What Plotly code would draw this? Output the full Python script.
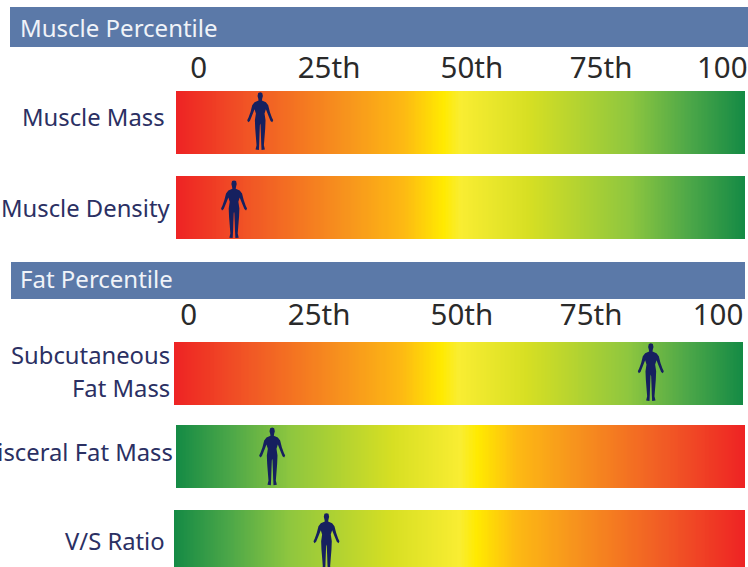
import numpy as np
import plotly.graph_objects as go

W, H = 748, 567

# --- chart content -------------------------------------------------------
row_names = ["Muscle Mass", "Muscle Density", "Subcutaneous Fat Mass", "Visceral Fat Mass", "V/S Ratio"]
percentiles = [14.8, 10.2, 83.8, 16.9, 26.7]
figure_y = [0.52, 0.47, 0.52, 0.50, 0.49]
reversed_scale = [False, False, False, True, True]

tick_labels = ["0", "25th", "50th", "75th", "100"]
muscle_tick_pos = [4.0, 26.9, 52.0, 74.7, 96.0]
fat_tick_pos = [2.6, 25.5, 50.6, 73.3, 95.6]

section_titles = ["Muscle Percentile", "Fat Percentile"]

# --- layout and style ----------------------------------------------------
row_left = [176, 176, 174, 176, 174]
row_right = [745, 745, 743, 745, 745]
row_top = [91, 176, 342, 425, 510]
row_bottom = [154, 239, 405, 488, 573]

label_lines = [
    [("Muscle Mass", 167, 117)],
    [("Muscle Density", 172, 208)],
    [("Subcutaneous", 172, 355), ("Fat Mass", 172, 388)],
    [("Visceral Fat Mass", 175, 452)],
    [("V/S Ratio", 167, 541)],
]
title_boxes = [(10, 748, 7, 47, 18, 27), (11, 745, 262, 299, 18, 278)]
tick_standoff = {0: 6, 2: 10}

ramp = [
    [0.00, "#ee2224"], [0.14, "#f15a25"], [0.30, "#f7941d"], [0.40, "#fdb913"],
    [0.47, "#ffea00"], [0.50, "#f9ed32"], [0.62, "#d7df23"], [0.80, "#8dc63f"],
    [0.90, "#4ea848"], [1.00, "#148a45"],
]
BAND = "#5b79a8"
NAVY = "#2b3063"
GLYPH = "#16205f"
FONT = "Noto Sans"

half = [(0, 36), (6, 38), (8, 47), (6, 55), (5, 61), (17, 66), (24, 75), (29, 95), (35, 112),
        (39, 120), (36, 126), (31, 122), (22, 100), (17, 87), (13, 100), (16, 120), (15, 145),
        (13, 170), (11, 195), (14, 208), (4, 209), (3, 190), (2, 160), (1, 135), (0, 130)]
pts = [(x / 3, (123 - y) / 3) for x, y in half]
outline = pts + [(-x, y) for x, y in reversed(pts[:-1])]
glyph_path = "M " + " L ".join(f"{x:.2f},{y:.2f}" for x, y in outline) + " Z"

ramp_pos = np.arange(0.125, 100, 0.25)

fig = go.Figure()
layout = dict(
    width=W, height=H, margin=dict(l=0, r=0, t=0, b=0, autoexpand=False),
    paper_bgcolor="white", plot_bgcolor="white", showlegend=False,
    font=dict(family=FONT, color=NAVY), shapes=[], annotations=[],
)

for i, name in enumerate(row_names):
    n = "" if i == 0 else str(i + 1)
    z = ramp_pos[::-1] if reversed_scale[i] else ramp_pos
    fig.add_trace(go.Heatmap(
        z=[z.tolist()], x=ramp_pos.tolist(), y=[0.5], dy=1,
        zmin=0, zmax=100, colorscale=ramp, showscale=False,
        xaxis=f"x{n}", yaxis=f"y{n}", name=name,
        hovertemplate=name + "<extra></extra>",
    ))
    ticks = {0: muscle_tick_pos, 2: fat_tick_pos}.get(i)
    layout[f"xaxis{n}"] = dict(
        domain=[row_left[i] / W, min(row_right[i] / W, 1)], range=[0, 100],
        anchor=f"y{n}", side="top", showgrid=False, zeroline=False, showline=False,
        ticks="", showticklabels=ticks is not None,
        tickmode="array", tickvals=ticks or [], ticktext=tick_labels if ticks else [],
        tickfont=dict(family=FONT, size=29.5, color="#2a2a2a"),
        ticklabelstandoff=tick_standoff.get(i, 0),
    )
    bottom = min(row_bottom[i], H)
    layout[f"yaxis{n}"] = dict(
        domain=[1 - bottom / H, 1 - row_top[i] / H],
        range=[(row_bottom[i] - bottom) / (row_bottom[i] - row_top[i]), 1],
        anchor=f"x{n}", showgrid=False, zeroline=False, showline=False,
        showticklabels=False, ticks="",
    )
    layout["shapes"].append(dict(
        type="path", path=glyph_path, xsizemode="pixel", ysizemode="pixel",
        xref=f"x{n}", yref=f"y{n}", xanchor=percentiles[i], yanchor=figure_y[i],
        fillcolor=GLYPH, line=dict(width=0), layer="above",
    ))
    for text, xr, yc in label_lines[i]:
        layout["annotations"].append(dict(
            text=text, xref="paper", yref="paper", x=xr / W, y=1 - yc / H,
            xanchor="right", yanchor="middle", showarrow=False,
            font=dict(family=FONT, size=23.8, color=NAVY),
        ))

for title, (x0, x1, y0, y1, tx, ty) in zip(section_titles, title_boxes):
    layout["shapes"].append(dict(
        type="rect", xref="paper", yref="paper", x0=x0 / W, x1=x1 / W,
        y0=1 - y1 / H, y1=1 - y0 / H, fillcolor=BAND, line=dict(width=0), layer="below",
    ))
    layout["annotations"].append(dict(
        text=title, xref="paper", yref="paper", x=tx / W, y=1 - ty / H,
        xanchor="left", yanchor="middle", showarrow=False,
        font=dict(family=FONT, size=24, color="#f0f3f8"),
    ))

fig.update_layout(**layout)
fig.write_html(
    "out.html",
    config=dict(displayModeBar=False),
    post_script="document.body.style.margin='0';document.body.style.overflow='hidden';",
)
